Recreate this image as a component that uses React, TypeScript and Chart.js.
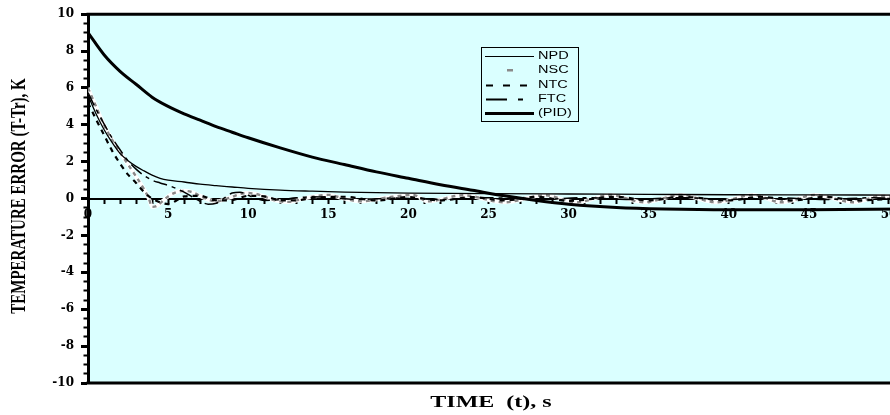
import React, { useEffect, useRef } from 'react';
import { Chart, registerables } from 'chart.js';

Chart.register(...registerables);

// ---- data ----
const pidT = [0, 1, 2, 3, 4, 5, 6, 7, 8, 9, 10, 12, 14, 16, 18, 20, 22, 24, 26, 28, 30, 33, 36, 40, 45, 51];
const pidV = [9.0, 7.8, 6.9, 6.2, 5.5, 5.0, 4.6, 4.25, 3.9, 3.6, 3.3, 2.75, 2.25, 1.85, 1.45, 1.1, 0.75, 0.45, 0.15, -0.1, -0.3, -0.48, -0.56, -0.6, -0.6, -0.56];

const npdT = [0, 0.5, 1, 1.5, 2, 2.5, 3, 3.5, 4, 4.5, 5, 6, 7, 8, 9, 10, 12, 14, 16, 18, 20, 25, 30, 35, 40, 45, 51];
const npdV = [5.6, 4.6, 3.75, 3.05, 2.45, 2.05, 1.75, 1.5, 1.27, 1.1, 1.0, 0.9, 0.78, 0.7, 0.63, 0.56, 0.46, 0.4, 0.35, 0.32, 0.3, 0.27, 0.25, 0.23, 0.21, 0.2, 0.19];

const ftcT = [0, 0.5, 1, 1.5, 2, 2.5, 3, 3.5, 4, 4.5, 5, 5.5, 6, 6.5, 7, 7.5, 8, 8.5, 9, 9.5, 10, 10.5, 11, 12, 13, 14, 15, 17, 19, 22, 25, 28, 31, 34, 37, 40, 43, 46, 49, 51];
const ftcV = [5.75, 4.85, 4.05, 3.3, 2.65, 2.05, 1.6, 1.25, 1.0, 0.85, 0.72, 0.55, 0.35, 0.1, -0.15, -0.3, -0.25, 0.02, 0.3, 0.35, 0.18, 0.0, -0.1, -0.06, 0.04, 0.1, 0.06, -0.05, 0.03, -0.05, 0.05, -0.05, 0.05, -0.05, 0.05, -0.05, 0.05, -0.05, 0.05, 0.0];

const ntcT = [0, 0.5, 1, 1.5, 2, 2.5, 3, 3.5, 4, 4.5, 5, 5.5, 6, 7, 8, 9, 10, 11, 12, 13, 14, 16, 18, 20, 22, 24, 26, 28, 30, 33, 35, 37, 40, 42, 44, 46, 48, 51];
const ntcV = [5.2, 4.3, 3.45, 2.6, 1.9, 1.3, 0.85, 0.35, 0.0, -0.2, -0.3, -0.12, 0.12, 0.15, -0.1, -0.08, 0.15, 0.12, -0.08, -0.1, 0.04, 0.1, -0.1, 0.08, -0.1, 0.08, -0.1, 0.1, -0.12, 0.1, -0.1, 0.1, -0.1, 0.1, -0.1, 0.1, -0.1, 0.05];

const nscT = [0, 0.5, 1, 1.5, 2, 2.5, 3, 3.5, 3.8, 4, 4.3, 4.7, 5, 5.5, 6, 6.5, 7, 7.5, 8, 8.5, 9, 9.5, 10, 10.5, 11, 11.5, 12, 12.5, 13, 14, 15, 16, 17, 19, 20.3, 21.2, 23.4, 26, 28.5, 30.5, 32.6, 34.7, 37, 39.2, 41.5, 43.3, 45.4, 47.8, 49.5, 51];
const nscV = [6.0, 5.0, 4.0, 3.2, 2.5, 1.85, 1.2, 0.5, 0.0, -0.45, -0.4, -0.1, 0.12, 0.35, 0.42, 0.35, 0.15, -0.05, -0.15, -0.05, 0.1, 0.25, 0.3, 0.25, 0.12, -0.05, -0.15, -0.18, -0.1, 0.1, 0.2, 0.0, -0.15, 0.1, 0.2, -0.15, 0.18, -0.2, 0.18, -0.2, 0.2, -0.2, 0.2, -0.2, 0.2, -0.2, 0.2, -0.2, 0.15, -0.05];

const seriesNames = ['NPD', 'NSC', 'NTC', 'FTC', '(PID)'];
const xMin = 0;
const xMax = 51;
const xLabelEvery = 5;
const xLabelMax = 50;
const yMin = -10;
const yMax = 10;
const yLabelEvery = 2;
const xTitle = 'TIME  (t), s';
const yTitle = 'TEMPERATURE ERROR (T-Tr), K';

const pts = (t: number[], v: number[]) => t.map((x, i) => ({ x, y: v[i] }));

const tickFont = { family: "'DejaVu Serif'", weight: 'bold' as const, size: 12 };

function stretchedText(ctx: CanvasRenderingContext2D, text: string, x: number, y: number, sx: number, align: CanvasTextAlign) {
  ctx.save();
  ctx.translate(x, y);
  ctx.scale(sx, 1);
  ctx.textAlign = align;
  ctx.textBaseline = 'middle';
  ctx.fillText(text, 0, 0);
  ctx.restore();
}

const bgPlugin = {
  id: 'bgPlugin',
  beforeDraw(chart: any) {
    const { ctx, chartArea: a } = chart;
    ctx.save();
    ctx.fillStyle = '#daffff';
    ctx.fillRect(a.left, a.top, a.right - a.left, a.bottom - a.top);
    ctx.restore();
  },
};

const framePlugin = {
  id: 'framePlugin',
  afterDraw(chart: any) {
    const { ctx, chartArea: a } = chart;
    ctx.save();
    ctx.strokeStyle = '#000';
    ctx.lineWidth = 3;
    ctx.beginPath();
    ctx.moveTo(a.left - 1.5, a.top);
    ctx.lineTo(a.right, a.top);
    ctx.lineTo(a.right, a.bottom);
    ctx.lineTo(a.left - 1.5, a.bottom);
    ctx.stroke();
    ctx.restore();
  },
};

const legendPlugin = {
  id: 'legendPlugin',
  afterDraw(chart: any) {
    const ctx: CanvasRenderingContext2D = chart.ctx;
    const bx = 481, by = 47, bw = 97, bh = 74;
    ctx.save();
    ctx.strokeStyle = '#000';
    ctx.lineWidth = 1;
    ctx.strokeRect(bx + 0.5, by + 0.5, bw, bh);
    const x0 = 485, x1 = 534;
    seriesNames.forEach((name, i) => {
      const y = Math.round(56 + i * 14.25) + 0.5;
      ctx.save();
      ctx.strokeStyle = '#000';
      if (i === 1) {
        ctx.fillStyle = '#8a8a8a';
        ctx.fillRect(507, y - 1.5, 6, 2.5);
      } else {
        ctx.beginPath();
        if (i === 0) { ctx.lineWidth = 1; ctx.setLineDash([]); }
        if (i === 2) { ctx.lineWidth = 2; ctx.setLineDash([7, 10]); }
        if (i === 3) { ctx.lineWidth = 2; ctx.setLineDash([21, 11, 5, 11]); }
        if (i === 4) { ctx.lineWidth = 3; ctx.setLineDash([]); }
        ctx.moveTo(i === 2 || i === 3 ? 486 : x0, y);
        ctx.lineTo(x1, y);
        ctx.stroke();
      }
      ctx.restore();
      ctx.fillStyle = '#000';
      ctx.font = '10px "Liberation Sans"';
      stretchedText(ctx, name, 538, y, 1.45, 'left');
    });
    ctx.restore();
  },
};

const titlePlugin = {
  id: 'titlePlugin',
  afterDraw(chart: any) {
    const ctx: CanvasRenderingContext2D = chart.ctx;
    ctx.save();
    ctx.fillStyle = '#000';
    ctx.font = 'bold 16px "Liberation Serif"';
    stretchedText(ctx, xTitle, 491, 403, 1.5, 'center');
    ctx.restore();

    ctx.save();
    ctx.fillStyle = '#000';
    ctx.translate(20, 196);
    ctx.rotate(-Math.PI / 2);
    ctx.scale(1, 1.35);
    ctx.font = 'bold 15px "Liberation Serif"';
    ctx.textAlign = 'center';
    ctx.textBaseline = 'middle';
    ctx.fillText(yTitle, 0, 0);
    ctx.restore();
  },
};

const isYMajor = (c: any) => c.tick && Math.abs(c.tick.value % yLabelEvery) < 1e-9;

export default function App() {
  const ref = useRef<HTMLCanvasElement>(null);

  useEffect(() => {
    const base = { pointRadius: 0, fill: false, cubicInterpolationMode: 'monotone' as const };
    const chart = new Chart(ref.current!, {
      type: 'line',
      data: {
        datasets: [
          { ...base, label: seriesNames[4], data: pts(pidT, pidV), borderColor: '#000', borderWidth: 3 },
          { ...base, label: seriesNames[0], data: pts(npdT, npdV), borderColor: '#000', borderWidth: 1.3 },
          { ...base, label: seriesNames[3], data: pts(ftcT, ftcV), borderColor: '#000', borderWidth: 1.5, borderDash: [14, 5, 4, 5] },
          { ...base, label: seriesNames[2], data: pts(ntcT, ntcV), borderColor: '#000', borderWidth: 2.2, borderDash: [5, 5] },
          { ...base, label: seriesNames[1], data: pts(nscT, nscV), borderColor: '#888888', borderWidth: 2.4, borderDash: [4, 4] },
          { ...base, label: seriesNames[1] + ' base', data: pts(nscT, nscV), borderColor: '#ffffff', borderWidth: 4 },
        ],
      },
      options: {
        animation: false,
        responsive: false,
        events: [],
        layout: { padding: { top: 10, bottom: 32, left: 0, right: 2 } },
        plugins: { legend: { display: false }, tooltip: { enabled: false }, title: { display: false } },
        scales: {
          x: {
            type: 'linear',
            min: xMin,
            max: xMax,
            position: { y: 0 } as any,
            ticks: {
              stepSize: 1,
              autoSkip: false,
              maxRotation: 0,
              padding: 5,
              color: '#000',
              font: tickFont,
              callback: (v: any) => (v % xLabelEvery === 0 && v <= xLabelMax ? String(v) : ''),
            },
            grid: { drawOnChartArea: false, drawTicks: true, tickLength: 4, tickWidth: 2, tickColor: '#000' },
            border: { display: true, color: '#000', width: 2 },
          },
          y: {
            type: 'linear',
            min: yMin,
            max: yMax,
            position: 'left',
            afterFit: (s: any) => { s.width = 88; },
            ticks: {
              stepSize: 0.5,
              autoSkip: false,
              padding: 7,
              color: '#000',
              font: tickFont,
              callback: (v: any) => (Math.abs(v % yLabelEvery) < 1e-9 ? String(v) : ''),
            },
            grid: {
              drawOnChartArea: false,
              drawTicks: true,
              tickLength: 7,
              tickColor: '#000',
              tickWidth: (c: any) => (isYMajor(c) ? 3 : 2),
              tickBorderDash: (c: any) => (isYMajor(c) ? [] : [0, 2.5, 10]),
            } as any,
            border: { display: true, color: '#000', width: 3 },
          },
        },
      },
      plugins: [bgPlugin, framePlugin, legendPlugin, titlePlugin],
    });
    return () => chart.destroy();
  }, []);

  return (
    <div style={{ position: 'fixed', left: 0, top: 0, width: 890, height: 415, overflow: 'hidden', background: '#fff' }}>
      <canvas ref={ref} width={910} height={415} style={{ display: 'block', width: 910, height: 415 }} />
    </div>
  );
}
